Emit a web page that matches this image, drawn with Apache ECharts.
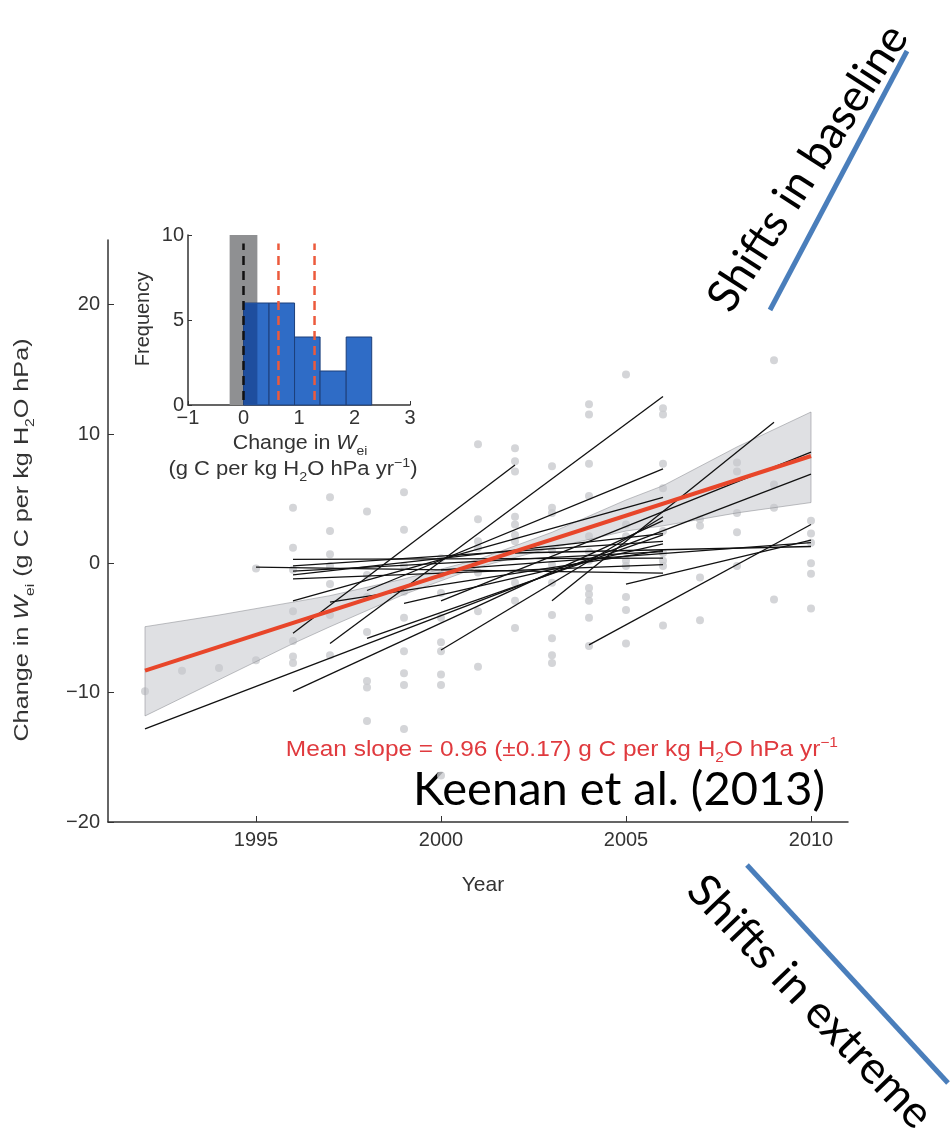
<!DOCTYPE html>
<html><head><meta charset="utf-8">
<script src="https://cdn.jsdelivr.net/npm/echarts@6/dist/echarts.min.js"></script>
<style>html,body{margin:0;padding:0;background:#fff}#c{width:951px;height:1135px}</style>
</head><body><div id="c"></div>
<script>
// ---------- main panel data ----------
const xTicks = [1995, 2000, 2005, 2010];
const yTicks = [-20, -10, 0, 10, 20];

const dotYears = [1992,1993,1994,1995,1996,1997,1998,1999,2000,2001,2002,2003,2004,2005,2006,2007,2008,2009,2010];
const dotValues = [
  [-9.9],
  [-8.3],
  [-8.1],
  [-7.5,-0.4],
  [4.3,1.2,-0.5,-3.7,-6.0,-7.2,-7.7],
  [5.1,2.5,0.7,-0.2,-1.6,-4.0,-7.1],
  [4.0,-0.9,-2.6,-5.3,-9.1,-9.6,-12.2],
  [5.5,2.6,-0.2,-2.2,-4.2,-6.8,-8.5,-9.4,-12.8],
  [0.4,-0.9,-2.3,-4.2,-6.1,-6.8,-8.6,-9.4,-16.4],
  [9.2,3.4,1.7,1.2,-0.7,-3.7,-8.0],
  [8.9,7.9,7.1,3.6,3.0,2.2,1.7,-1.5,-2.9,-5.0],
  [7.5,4.3,3.9,1.0,-0.1,-1.5,-4.0,-5.8,-7.1,-7.7],
  [12.3,11.5,7.7,5.2,2.1,0.9,0.2,-1.9,-2.4,-2.9,-4.2,-6.4],
  [14.6,3.0,2.1,0.2,-0.2,-2.6,-3.6,-6.2],
  [12.0,11.5,7.7,5.8,2.5,0.8,0.2,-0.2,-4.8],
  [3.4,2.9,-1.1,-4.4],
  [7.8,7.1,3.9,2.4,-0.2],
  [15.7,6.1,4.3,-2.8],
  [3.3,2.3,1.6,0.0,-0.8,-3.5]
];

// site-level regression segments
const siteStartYear  = [1992,1995,1996,1996,1996,1996,1996,1996,1996,1996,1997,1998,1999,2000,2000,2003,2004,2005,2000,2002,1998,1997];
const siteStartValue = [-12.8,-0.3,0.3,-0.2,-0.6,-0.9,-1.2,-2.9,-5.4,-9.9,-6.2,-2.1,-3.1,-6.7,-2.9,-2.9,-6.3,-1.6,-0.5,0.8,-5.8,-3.0];
const siteEndYear    = [2010,2006,2006,2006,2006,2006,2006,2006,2002,2006,2006,2006,2006,2006,2010,2009,2010,2010,2010,2010,2006,2006];
const siteEndValue   = [6.9,-0.75,0.4,1.7,0.9,2.3,-0.1,5.1,7.6,3.3,12.9,7.3,1.5,3.6,8.6,10.9,3.0,1.8,1.6,1.3,2.2,1.0];

// mean regression and its confidence band
const regYears = [1992, 2010];
const regValues = [-8.3, 8.3];
const bandYears = [1992,1994,1996,1997,1999,2001,2003,2005,2006,2008,2010];
const bandLower = [-11.8,-9.0,-6.2,-4.9,-2.4,-0.3,1.2,2.5,2.9,3.9,4.7];
const bandUpper = [-4.9,-4.0,-3.0,-2.5,-1.2,0.3,2.4,4.9,6.0,9.0,11.7];

// ---------- inset histogram data ----------
const histXTicks = [-1, 0, 1, 2, 3];
const histYTicks = [0, 5, 10];
const binStart = [0.0, 0.46, 0.92, 1.38, 1.85];
const binEnd   = [0.46, 0.92, 1.38, 1.85, 2.31];
const binCount = [6, 6, 4, 2, 4];
const nullStart = [-0.25];
const nullEnd   = [0.25];
const nullCount = [10];
const nullLineX = 0;
const meanLinesX = [0.63, 1.28];
const dashRange = [0.3, 9.5];

// ---------- build ----------
const dots = [];
dotYears.forEach((yr, i) => dotValues[i].forEach(v => dots.push([yr, v])));
const siteSegs = siteStartYear.map((s, i) => ({coords: [[s, siteStartValue[i]], [siteEndYear[i], siteEndValue[i]]]}));
const bandData = bandYears.map((y, i) => [y, bandLower[i], bandUpper[i]]);
const fmtMinus = v => String(v).replace('-', '\u2212');

const AX = '#333';
const FONT = 'Liberation Sans, Arial, sans-serif';
const LFS = 20;
const sub = (fill, size, pad) => ({fontSize: size, fontFamily: FONT, fill: fill, padding: [pad, 0, 0, 0]});
const sup = (fill, size, pad) => ({fontSize: size, fontFamily: FONT, fill: fill, padding: [0, 0, pad, 0]});

const chart = echarts.init(document.getElementById('c'), null, {renderer: 'canvas'});

const option = {
  backgroundColor: '#fff',
  animation: false,
  grid: [
    {left: 108, top: 240, width: 740, height: 582},
    {left: 188, top: 235, width: 222, height: 170}
  ],
  xAxis: [
    {gridIndex: 0, type: 'value', min: 1991, max: 2011,
     axisLine: {show: true, onZero: false, lineStyle: {color: AX, width: 1.5}},
     axisTick: {show: true, inside: true, length: 6, customValues: xTicks, lineStyle: {color: AX}},
     axisLabel: {customValues: xTicks, color: AX, fontSize: LFS, fontFamily: FONT, margin: 8, formatter: v => String(v)},
     splitLine: {show: false}},
    {gridIndex: 1, type: 'value', min: -1, max: 3, interval: 1,
     axisLine: {show: true, onZero: false, lineStyle: {color: AX, width: 1.5}},
     axisTick: {show: true, inside: true, length: 4, customValues: histXTicks, lineStyle: {color: AX}},
     axisLabel: {customValues: histXTicks, color: AX, fontSize: LFS, fontFamily: FONT, margin: 3, formatter: fmtMinus},
     splitLine: {show: false}}
  ],
  yAxis: [
    {gridIndex: 0, type: 'value', min: -20, max: 25,
     axisLine: {show: true, onZero: false, lineStyle: {color: AX, width: 1.5}},
     axisTick: {show: true, inside: true, length: 6, customValues: yTicks, lineStyle: {color: AX}},
     axisLabel: {customValues: yTicks, color: AX, fontSize: LFS, fontFamily: FONT, margin: 8, formatter: fmtMinus},
     splitLine: {show: false}},
    {gridIndex: 1, type: 'value', min: 0, max: 10, interval: 5,
     axisLine: {show: true, onZero: false, lineStyle: {color: AX, width: 1.5}},
     axisTick: {show: true, inside: true, length: 4, customValues: histYTicks, lineStyle: {color: AX}},
     axisLabel: {customValues: histYTicks, color: AX, fontSize: LFS, fontFamily: FONT, margin: 4},
     splitLine: {show: false}}
  ],
  series: [
    {type: 'scatter', xAxisIndex: 0, yAxisIndex: 0, data: dots, symbolSize: 8,
     itemStyle: {color: '#c9cbce'}, z: 1, silent: true},
    {type: 'custom', xAxisIndex: 0, yAxisIndex: 0, z: 2, silent: true,
     data: bandData,
     renderItem: (params, api) => {
       if (params.dataIndex !== 0) return null;
       const up = bandData.map(d => api.coord([d[0], d[2]]));
       const lo = bandData.map(d => api.coord([d[0], d[1]])).reverse();
       return {type: 'polygon', shape: {points: up.concat(lo)},
               style: {fill: 'rgba(196,198,204,0.55)', stroke: 'rgba(140,142,148,0.7)', lineWidth: 0.8}};
     }},
    {type: 'lines', coordinateSystem: 'cartesian2d', xAxisIndex: 0, yAxisIndex: 0, z: 3,
     data: siteSegs, lineStyle: {color: '#111', width: 1.3, opacity: 1}, silent: true},
    {type: 'line', xAxisIndex: 0, yAxisIndex: 0, z: 4, showSymbol: false, symbol: 'none',
     data: regYears.map((y, i) => [y, regValues[i]]),
     lineStyle: {color: '#e8462a', width: 4}, silent: true},
    {type: 'custom', xAxisIndex: 1, yAxisIndex: 1, z: 2, silent: true,
     data: nullStart.map((s, i) => [s, nullEnd[i], nullCount[i]]),
     renderItem: (params, api) => {
       const p0 = api.coord([api.value(0), 0]), p1 = api.coord([api.value(1), api.value(2)]);
       return {type: 'rect', shape: {x: p0[0], y: p1[1], width: p1[0] - p0[0], height: p0[1] - p1[1]},
               style: {fill: '#8f9092'}};
     }},
    {type: 'custom', xAxisIndex: 1, yAxisIndex: 1, z: 3, silent: true,
     data: binStart.map((s, i) => [s, binEnd[i], binCount[i]]),
     renderItem: (params, api) => {
       const x0 = api.value(0), x1 = api.value(1), h = api.value(2);
       const p0 = api.coord([x0, 0]), p1 = api.coord([x1, h]);
       const children = [{type: 'rect', shape: {x: p0[0], y: p1[1], width: p1[0] - p0[0], height: p0[1] - p1[1]},
               style: {fill: '#2f6cc6', stroke: '#1d3f7a', lineWidth: 1}}];
       const ox0 = Math.max(x0, nullStart[0]), ox1 = Math.min(x1, nullEnd[0]);
       if (ox1 > ox0) {
         const q0 = api.coord([ox0, 0]), q1 = api.coord([ox1, Math.min(h, nullCount[0])]);
         children.push({type: 'rect', shape: {x: q0[0] + 0.5, y: q1[1] + 0.5, width: q1[0] - q0[0] - 0.5, height: q0[1] - q1[1] - 1},
               style: {fill: '#1e4e9e'}});
       }
       return {type: 'group', children};
     }},
    {type: 'line', xAxisIndex: 1, yAxisIndex: 1, z: 5, symbol: 'none', silent: true,
     data: [[nullLineX, dashRange[0]], [nullLineX, dashRange[1]]],
     lineStyle: {color: '#111', width: 2.5, type: [9, 6]}},
    ...meanLinesX.map(x => ({type: 'line', xAxisIndex: 1, yAxisIndex: 1, z: 5, symbol: 'none', silent: true,
     data: [[x, dashRange[0]], [x, dashRange[1]]],
     lineStyle: {color: '#ec5a3c', width: 2.5, type: [9, 6]}}))
  ],
  graphic: [
    {type: 'text', x: 22, y: 540, rotation: Math.PI / 2, scaleX: 1.2, silent: true,
     style: {text: 'Change in {i|W}{s|ei} (g C per kg H{s|2}O hPa)', fill: AX, font: '21px ' + FONT,
             align: 'center', verticalAlign: 'middle',
             rich: {i: {fontStyle: 'italic', fontSize: 21, fontFamily: FONT, fill: AX},
                    s: sub(AX, 13, 16)}}},
    {type: 'text', x: 483, y: 885, silent: true,
     style: {text: 'Year', fill: AX, font: '21px ' + FONT, align: 'center', verticalAlign: 'middle'}},
    {type: 'text', x: 143, y: 319, rotation: Math.PI / 2, silent: true,
     style: {text: 'Frequency', fill: AX, font: '20px ' + FONT, align: 'center', verticalAlign: 'middle'}},
    {type: 'text', x: 300, y: 443, scaleX: 1.07, silent: true,
     style: {text: 'Change in {i|W}{s|ei}', fill: AX, font: '20px ' + FONT, align: 'center', verticalAlign: 'middle',
             rich: {i: {fontStyle: 'italic', fontSize: 20, fontFamily: FONT, fill: AX},
                    s: sub(AX, 13, 16)}}},
    {type: 'text', x: 293, y: 469, scaleX: 1.1, silent: true,
     style: {text: '(g C per kg H{s|2}O hPa yr{p|\u22121})', fill: AX, font: '20px ' + FONT, align: 'center', verticalAlign: 'middle',
             rich: {s: sub(AX, 13, 16), p: sup(AX, 13, 12)}}},
    {type: 'text', x: 838, y: 750, scaleX: 1.11, silent: true,
     style: {text: 'Mean slope = 0.96 (\u00b10.17) g C per kg H{s|2}O hPa yr{p|\u22121}', fill: '#e03a3e',
             font: '22px ' + FONT, align: 'right', verticalAlign: 'middle',
             rich: {s: sub('#e03a3e', 14, 17), p: sup('#e03a3e', 14, 13)}}},
    {type: 'text', x: 825, y: 790, silent: true,
     style: {text: 'Keenan et al. (2013)', fill: '#000', font: '47px Lato, Carlito, sans-serif',
             align: 'right', verticalAlign: 'middle'}},
    {type: 'line', silent: true, shape: {x1: 770, y1: 310, x2: 907, y2: 51},
     style: {stroke: '#4a7ebb', lineWidth: 5}},
    {type: 'text', x: 808, y: 168, rotation: Math.atan2(295, 190), silent: true,
     style: {text: 'Shifts in baseline', fill: '#000', font: '45px Lato, Carlito, sans-serif',
             align: 'center', verticalAlign: 'middle'}},
    {type: 'line', silent: true, shape: {x1: 747, y1: 865, x2: 948, y2: 1083},
     style: {stroke: '#4a7ebb', lineWidth: 5}},
    {type: 'text', x: 810, y: 1002, rotation: -Math.atan2(250, 240), silent: true,
     style: {text: 'Shifts in extreme', fill: '#000', font: '45px Lato, Carlito, sans-serif',
             align: 'center', verticalAlign: 'middle'}}
  ]
};
chart.setOption(option);
</script>
</body></html>
